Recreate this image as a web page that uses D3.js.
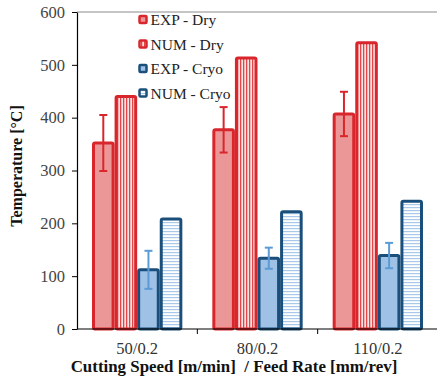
<!DOCTYPE html>
<html><head><meta charset="utf-8">
<script src="https://cdn.jsdelivr.net/npm/d3@7"></script>
<style>body{margin:0;background:#fff}svg{display:block}</style>
</head><body><svg id="c" width="437" height="380"></svg>
<script>
const categories = ["50/0.2", "80/0.2", "110/0.2"];
const seriesNames = ["EXP - Dry", "NUM - Dry", "EXP - Cryo", "NUM - Cryo"];
const expDry = [352, 377, 407];
const expDryErr = [53, 43, 42];
const numDry = [440, 513, 542];
const expCryo = [112, 134, 139];
const expCryoErr = [36, 20, 24];
const numCryo = [208, 222, 242];
const yTicks = [0, 100, 200, 300, 400, 500, 600];

const FONT = "Liberation Serif";
const svg = d3.select("#c").attr("font-family", FONT);
const defs = svg.append("defs");
const pv = defs.append("pattern").attr("id","vstripe").attr("patternUnits","userSpaceOnUse").attr("width",3).attr("height",3);
pv.append("rect").attr("width",3).attr("height",3).attr("fill","#fbe3e3");
pv.append("rect").attr("x",0).attr("width",1.3).attr("height",3).attr("fill","#e0474b");
const ph = defs.append("pattern").attr("id","hstripe").attr("patternUnits","userSpaceOnUse").attr("width",3).attr("height",3);
ph.append("rect").attr("width",3).attr("height",3).attr("fill","#ffffff");
ph.append("rect").attr("y",0).attr("width",3).attr("height",1.2).attr("fill","#a9c8ea");

const L = 77, R = 438, T = 12, B = 329;
const x = d3.scaleBand().domain(categories).range([L, R]).paddingInner(0).paddingOuter(0);
const y = d3.scaleLinear().domain([0, 600]).range([B, T]);
const sub = d3.scaleBand().domain(seriesNames).range([15, x.bandwidth() - 15]).padding(0);

// top border
svg.append("line").attr("x1",L).attr("x2",R).attr("y1",T).attr("y2",T).attr("stroke","#8c8c8c").attr("stroke-width",1);

const styles = {
  "EXP - Dry": {fill:"#ec9797", stroke:"#d9262c", data: expDry, err: expDryErr, errColor:"#d9262c"},
  "NUM - Dry": {fill:"url(#vstripe)", stroke:"#d9262c", data: numDry},
  "EXP - Cryo": {fill:"#9fc1e6", stroke:"#1b4f7b", data: expCryo, err: expCryoErr, errColor:"#5b9bd5"},
  "NUM - Cryo": {fill:"url(#hstripe)", stroke:"#1b4f7b", data: numCryo}
};

const sw = 3;
seriesNames.forEach(s => {
  const st = styles[s];
  svg.append("g").selectAll("rect").data(categories).join("rect")
    .attr("x", c => x(c) + sub(s) + sw/2)
    .attr("y", (c,i) => y(st.data[i]))
    .attr("width", sub.bandwidth() - sw)
    .attr("height", (c,i) => B - y(st.data[i]))
    .attr("rx", 1.5)
    .attr("fill", st.fill).attr("stroke", st.stroke).attr("stroke-width", sw);
});
seriesNames.forEach(s => {
  const st = styles[s];
  if (!st.err) return;
  const g = svg.append("g").attr("stroke", st.errColor).attr("stroke-width", 2);
  categories.forEach((c,i) => {
    const cx = x(c) + sub(s) + sub.bandwidth()/2;
    const y1 = y(st.data[i] + st.err[i]), y2 = y(st.data[i] - st.err[i]);
    g.append("line").attr("x1",cx).attr("x2",cx).attr("y1",y1).attr("y2",y2);
    g.append("line").attr("x1",cx-4).attr("x2",cx+4).attr("y1",y1).attr("y2",y1);
    g.append("line").attr("x1",cx-4).attr("x2",cx+4).attr("y1",y2).attr("y2",y2);
  });
});

// y axis
const ya = svg.append("g").attr("transform",`translate(${L},0)`)
  .call(d3.axisLeft(y).tickValues(yTicks).tickSize(5).tickPadding(7).tickSizeOuter(0));
ya.attr("font-family", FONT);
ya.select(".domain").attr("stroke","#000").attr("stroke-width",1.2);
ya.selectAll(".tick line").attr("stroke","#000");
ya.selectAll(".tick text").attr("font-size",16.5).attr("fill","#444").attr("font-family",FONT);

// x axis
const xa = svg.append("g").attr("transform",`translate(0,${B})`)
  .call(d3.axisBottom(x).tickSize(0).tickPadding(13));
xa.attr("font-family", FONT);
xa.select(".domain").remove();
svg.append("line").attr("x1",L).attr("x2",R).attr("y1",B).attr("y2",B).attr("stroke","#000").attr("stroke-width",1.2);
xa.selectAll(".tick text").attr("font-size",16.5).attr("fill","#333").attr("font-family",FONT);
svg.append("g").selectAll("line").data(categories.slice(1)).join("line")
  .attr("x1", c => x(c)).attr("x2", c => x(c)).attr("y1", B).attr("y2", B+5).attr("stroke","#000");

// titles
svg.append("text").attr("x", 234).attr("y", 372).attr("text-anchor","middle").attr("font-family",FONT)
  .attr("font-size",16.9).attr("font-weight","bold").attr("fill","#111")
  .style("white-space","pre").text("Cutting Speed [m/min]  / Feed Rate [mm/rev]");
svg.append("text").attr("transform","translate(22,166) rotate(-90)").attr("text-anchor","middle").attr("font-family",FONT)
  .attr("font-size",16).attr("font-weight","bold").attr("fill","#111").text("Temperature [°C]");

// legend
const lg = svg.append("g").attr("font-family", FONT);
seriesNames.forEach((s,i) => {
  const st = styles[s];
  const cy = 20 + i*24.5;
  lg.append("rect").attr("x",139.5).attr("y",cy-4).attr("width",7).attr("height",7).attr("rx",1)
    .attr("fill", st.fill).attr("stroke", st.stroke).attr("stroke-width",2.5);
  lg.append("text").attr("x",150.5).attr("y",cy+5).attr("font-size",15.5).attr("fill","#222").attr("font-family",FONT).text(s);
});
</script></body></html>
